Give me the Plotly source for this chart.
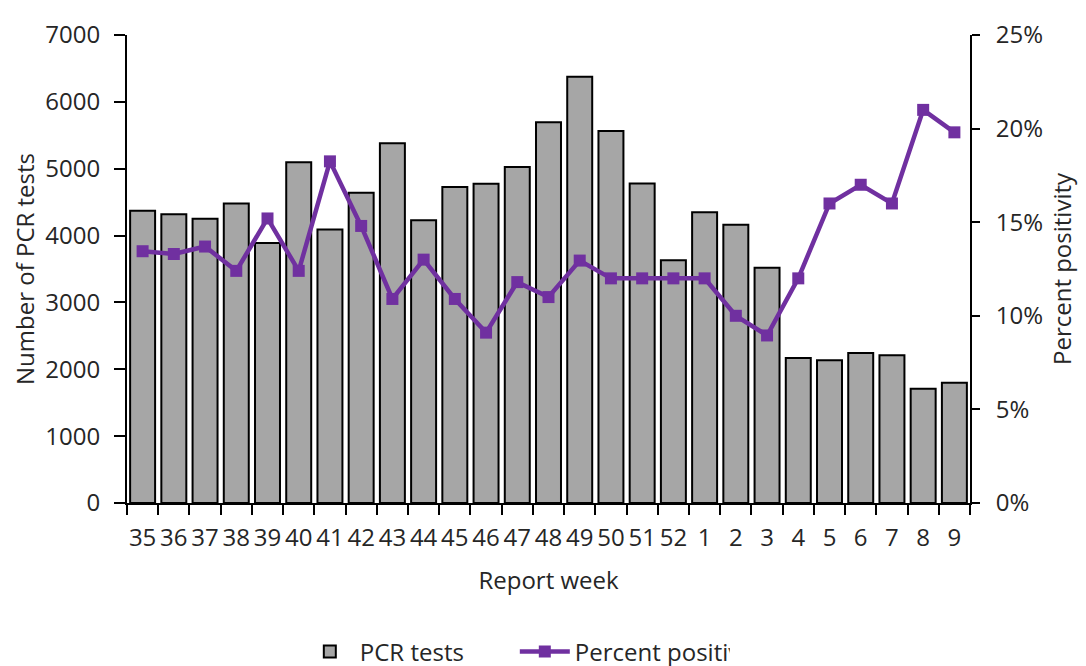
import plotly.graph_objects as go

weeks = ["35", "36", "37", "38", "39", "40", "41", "42", "43", "44", "45", "46", "47", "48",
         "49", "50", "51", "52", "1", "2", "3", "4", "5", "6", "7", "8", "9"]
pcr_tests = [4370, 4320, 4250, 4480, 3890, 5095, 4090, 4640, 5380, 4230, 4725, 4775, 5025, 5695,
             6375, 5565, 4780, 3630, 4350, 4160, 3520, 2170, 2135, 2245, 2210, 1710, 1800]
percent_positivity = [13.45, 13.3, 13.7, 12.4, 15.2, 12.4, 18.25, 14.8, 10.9, 13.0, 10.9, 9.1, 11.8, 11.0,
                      12.95, 12.0, 12.0, 12.0, 12.0, 10.0, 8.95, 12.0, 16.0, 17.0, 16.0, 21.0, 19.8]

FONT = "Open Sans"
fig = go.Figure()
fig.add_trace(go.Bar(
    x=weeks, y=pcr_tests, name="PCR tests",
    marker=dict(color="#a6a6a6", line=dict(color="black", width=2)),
    yaxis="y",
))
fig.add_trace(go.Scatter(
    x=weeks, y=[v / 100 for v in percent_positivity], name="Percent positivity",
    mode="lines+markers",
    line=dict(color="#7030a0", width=4.5),
    marker=dict(symbol="square", size=12, color="#7030a0"),
    yaxis="y2",
))

# page body adds an 8px offset; margins compensate so the plot area lands at 127..970 x 35..503
fig.update_layout(
    width=1086, height=666,
    margin=dict(l=119, r=124, t=27, b=171),
    paper_bgcolor="white", plot_bgcolor="white",
    font=dict(family=FONT, size=24, color="#262626"),
    bargap=0.2,
    showlegend=True,
    legend=dict(orientation="h", x=0.205, xanchor="left", yref="container", y=0.033,
                yanchor="middle", font=dict(size=24), traceorder="normal", itemwidth=50,
                entrywidth=150),
    xaxis=dict(type="category", range=[-0.5, 26.5], tickson="boundaries", ticks="outside",
               ticklen=10, tickcolor="black", tickwidth=1.5, showline=True, linecolor="black",
               linewidth=2, showgrid=False, tickangle=0, automargin=False,
               ticklabelstandoff=12,
               title=dict(text="Report week", standoff=20, font=dict(size=24)),
               tickfont=dict(size=24)),
    yaxis=dict(range=[0, 7000], dtick=1000, ticks="outside", ticklen=11, tickcolor="black",
               tickwidth=1.5, showline=True, linecolor="black", linewidth=2, showgrid=False,
               zeroline=False, automargin=False, ticklabelstandoff=9,
               title=dict(text="Number of PCR tests", standoff=19, font=dict(size=24)),
               tickfont=dict(size=24)),
    yaxis2=dict(range=[0, 0.25], dtick=0.05, tickformat=".0%", overlaying="y", side="right",
                ticks="outside", ticklen=8, tickcolor="black", tickwidth=1.5, showline=True,
                linecolor="black", linewidth=2, showgrid=False, zeroline=False, automargin=False,
                ticklabelstandoff=11,
                title=dict(text="Percent positivity", standoff=12, font=dict(size=24)),
                tickfont=dict(size=24)),
)

fig.write_html("out.html")
